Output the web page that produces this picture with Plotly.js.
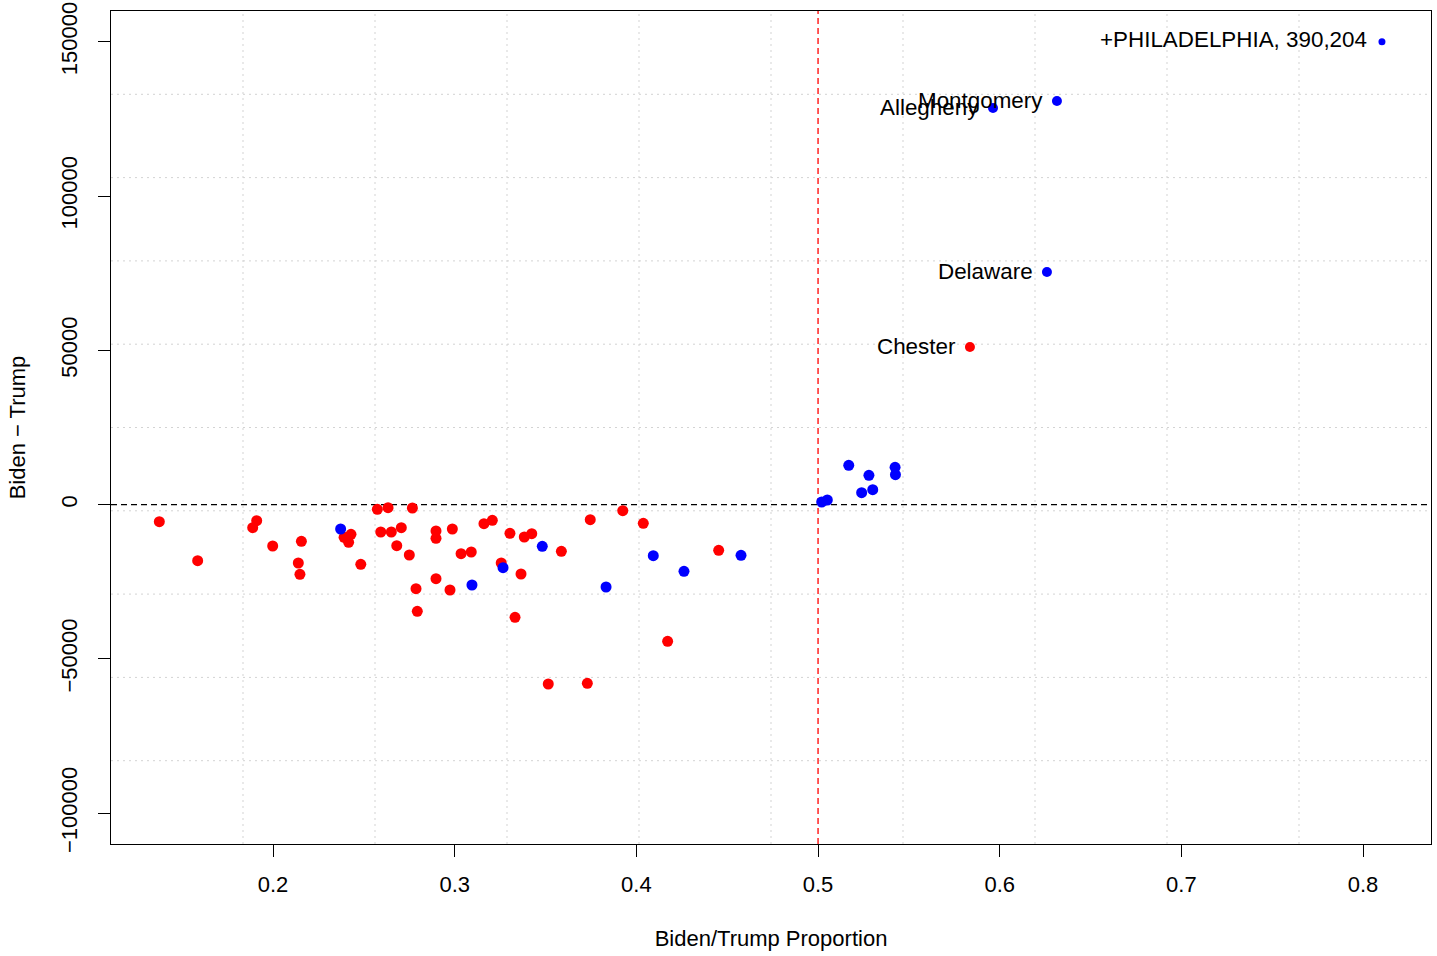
<!DOCTYPE html>
<html>
<head>
<meta charset="utf-8">
<script src="https://cdn.plot.ly/plotly-3.0.1.min.js"></script>
<style>
  html, body { margin: 0; padding: 0; background: #ffffff; }
  #chart { width: 1437px; height: 956px; }
</style>
</head>
<body>
<div id="chart"></div>
<script>
// ---- Data ----
// Counties colored red
const redX = [0.1374, 0.1585, 0.1910, 0.1888, 0.1998, 0.2156, 0.2139, 0.2148, 0.2429, 0.2391,
              0.2416, 0.2483, 0.2574, 0.2633, 0.2767, 0.2593, 0.2651, 0.2706, 0.2681, 0.2750,
              0.2897, 0.2897, 0.2987, 0.3035, 0.3091, 0.3161, 0.3207, 0.2897, 0.2974, 0.2787,
              0.2794, 0.3256, 0.3304, 0.3383, 0.3424, 0.3587, 0.3365, 0.3332, 0.3746, 0.3925,
              0.4038, 0.4453, 0.4172, 0.3515, 0.3730];
const redY = [-5532, -18175, -5209, -7478, -13410, -11886, -18920, -22583, -9617, -10590,
              -12210, -19341, -1514, -995, -1093, -8872, -8872, -7478, -13313, -16327,
              -8548, -10914, -7899, -15905, -15354, -6181, -5079, -24009, -27671, -27250,
              -34575, -18920, -9293, -10492, -9423, -15127, -22485, -36520, -4885, -1968,
              -6052, -14803, -44299, -58140, -57913];
// Counties colored blue
const blueX = [0.2372, 0.3095, 0.3266, 0.3482, 0.3833, 0.4093, 0.4262, 0.4576,
               0.5020, 0.5051, 0.5169, 0.5280, 0.5240, 0.5301, 0.5424, 0.5426];
const blueY = [-7899, -26051, -20443, -13508, -26699, -16554, -21610, -16424,
               852, 1500, 12748, 9506, 3867, 4839, 12099, 9701];
// Labelled counties
const labelNames = ["Montgomery", "Allegheny", "Delaware", "Chester"];
const labelX     = [0.6315, 0.5963, 0.6260, 0.5836];
const labelY     = [130828, 128559, 75402, 51092];
const labelParty = ["blue", "blue", "blue", "red"];
// Philadelphia is off the scale: drawn at the top with its true margin in the label
const phillyName = "+PHILADELPHIA, 390,204";
const phillyX = [0.8104];
const phillyY = [150000];

// Axis ticks
const xTicks = [0.2, 0.3, 0.4, 0.5, 0.6, 0.7, 0.8];
const xTickText = ["0.2", "0.3", "0.4", "0.5", "0.6", "0.7", "0.8"];
const yTicks = [-100000, -50000, 0, 50000, 100000, 150000];
const yTickText = ["\u2212100000", "\u221250000", "0", "50000", "100000", "150000"];

// ---- Plot ----
const FONT = "Liberation Sans, Arial, Helvetica, sans-serif";
const xRange = [0.1108, 0.8374];
const yRange = [-110000, 160000];

const traces = [
  { x: redX, y: redY, type: "scatter", mode: "markers",
    marker: { color: "#ff0000", size: 11, line: { width: 0 } }, hoverinfo: "x+y" },
  { x: blueX, y: blueY, type: "scatter", mode: "markers",
    marker: { color: "#0000ff", size: 11, line: { width: 0 } }, hoverinfo: "x+y" },
  { x: labelX, y: labelY, text: labelNames, type: "scatter", mode: "markers",
    marker: { color: labelParty.map(p => p === "red" ? "#ff0000" : "#0000ff"), size: 10, line: { width: 0 } },
    hoverinfo: "text+x+y" },
  { x: phillyX, y: phillyY, text: [phillyName], type: "scatter", mode: "markers",
    marker: { color: "#0000ff", size: 7, line: { width: 0 } }, hoverinfo: "text" }
];

// Grid: R-style grid() lines, 10 equal divisions of the plotting region
const shapes = [];
for (let k = 1; k < 10; k++) {
  const gx = xRange[0] + (xRange[1] - xRange[0]) * k / 10;
  const gy = yRange[0] + (yRange[1] - yRange[0]) * k / 10;
  shapes.push({ type: "line", xref: "x", yref: "paper", x0: gx, x1: gx, y0: 0, y1: 1,
                line: { color: "#d3d3d3", width: 1, dash: "2px,4px" }, layer: "below" });
  shapes.push({ type: "line", xref: "paper", yref: "y", x0: 0, x1: 1, y0: gy, y1: gy,
                line: { color: "#d3d3d3", width: 1, dash: "2px,4px" }, layer: "below" });
}
// Reference lines
shapes.push({ type: "line", xref: "paper", yref: "y", x0: 0, x1: 1, y0: 0, y1: 0,
              line: { color: "#000000", width: 1.3, dash: "6px,4px" }, layer: "below" });
shapes.push({ type: "line", xref: "x", yref: "paper", x0: 0.5, x1: 0.5, y0: 0, y1: 1,
              line: { color: "#ff0000", width: 1.3, dash: "6px,4px" }, layer: "below" });

const annotations = labelNames.map((n, i) => ({
  x: labelX[i], y: labelY[i], xref: "x", yref: "y", text: n, showarrow: false,
  xanchor: "right", yanchor: "middle", xshift: -12, yshift: 1,
  font: { family: FONT, size: 22.4, color: "#000000" }
}));
annotations.push({
  x: phillyX[0], y: phillyY[0], xref: "x", yref: "y", text: phillyName, showarrow: false,
  xanchor: "right", yanchor: "middle", xshift: -13, yshift: 2,
  font: { family: FONT, size: 22.4, color: "#000000" }
});

const layout = {
  width: 1437, height: 956,
  paper_bgcolor: "#ffffff", plot_bgcolor: "#ffffff",
  margin: { l: 111, r: 6, t: 11, b: 112, pad: 0 },
  showlegend: false,
  font: { family: FONT, size: 22, color: "#000000" },
  xaxis: {
    range: xRange, tickmode: "array", tickvals: xTicks, ticktext: xTickText,
    ticks: "outside", ticklen: 12, tickwidth: 1, tickcolor: "#000000",
    ticklabelstandoff: 8,
    showline: true, mirror: true, linecolor: "#000000", linewidth: 1.3,
    showgrid: false, zeroline: false,
    tickfont: { family: FONT, size: 22, color: "#000000" },
    title: { text: "Biden/Trump Proportion", font: { family: FONT, size: 22, color: "#000000" }, standoff: 35 },
    automargin: false
  },
  yaxis: {
    range: yRange, tickmode: "array", tickvals: yTicks, ticktext: yTickText,
    ticks: "outside", ticklen: 12, tickwidth: 1, tickcolor: "#000000", tickangle: -90,
    ticklabelstandoff: 12,
    showline: true, mirror: true, linecolor: "#000000", linewidth: 1.3,
    showgrid: false, zeroline: false,
    tickfont: { family: FONT, size: 22, color: "#000000" },
    title: { text: "Biden \u2212 Trump", font: { family: FONT, size: 22, color: "#000000" }, standoff: 25 },
    automargin: false
  },
  shapes: shapes,
  annotations: annotations
};

Plotly.newPlot("chart", traces, layout, { displayModeBar: false, staticPlot: true });
</script>
</body>
</html>
